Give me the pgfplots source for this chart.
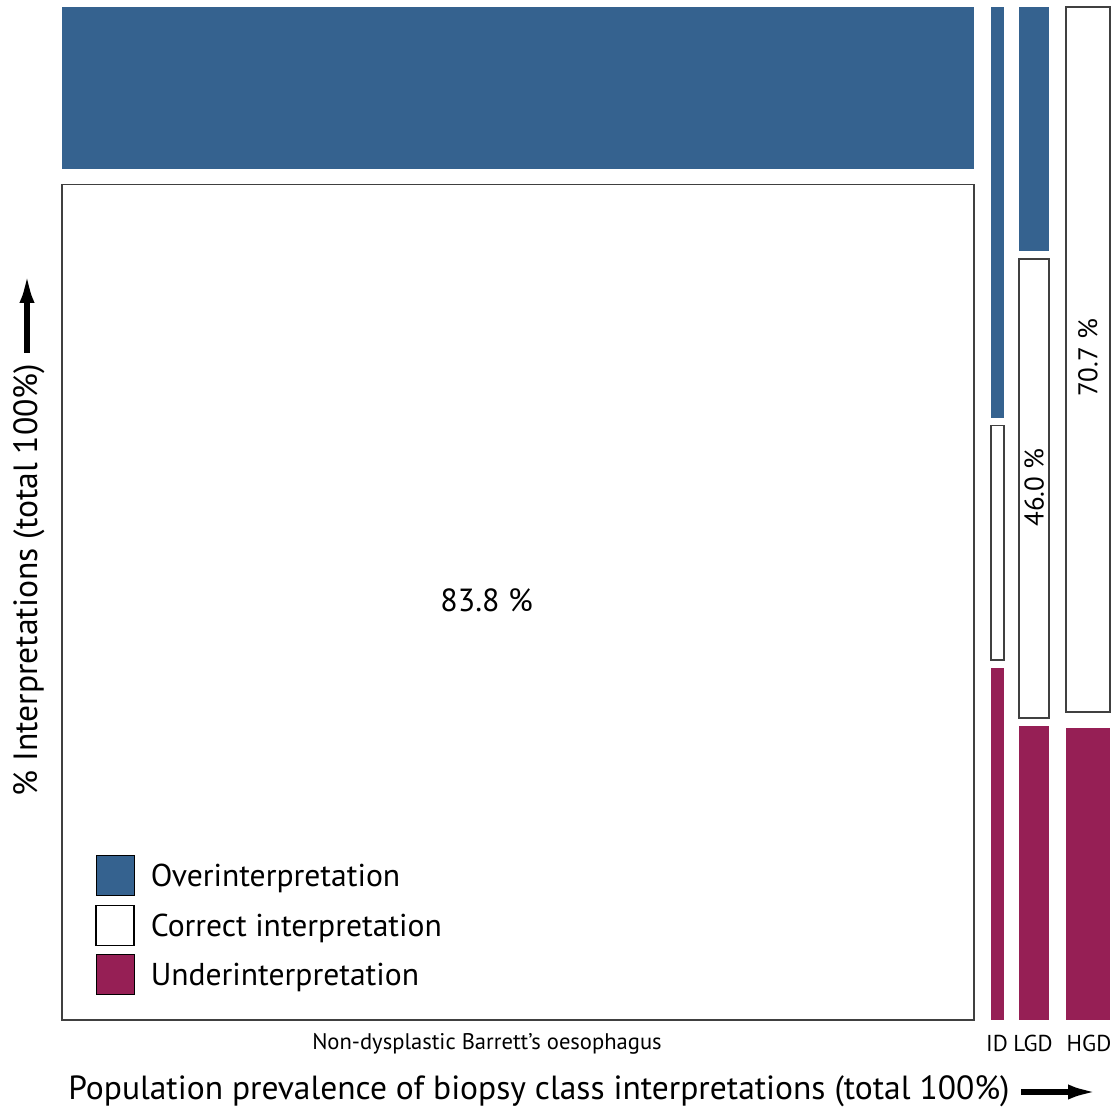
\documentclass[border=0pt]{standalone}
\usepackage{fontspec}
\setmainfont{PT Sans}
\usepackage{pgfplots}
\pgfplotsset{compat=1.18}
\usetikzlibrary{arrows.meta}
\definecolor{over}{HTML}{35628F}
\definecolor{under}{HTML}{961F55}
\definecolor{edge}{HTML}{404040}
\begin{document}
\begin{tikzpicture}
\useasboundingbox (-31pt,-46pt) rectangle (529pt,510pt);
\begin{axis}[
  at={(0,0)}, anchor=south west, scale only axis,
  width=524pt, height=506.5pt,
  xmin=0, xmax=104.9, ymin=0, ymax=101.6,
  axis lines=none, clip=false,
  legend cell align=left,
  legend style={at={(rel axis cs:0.0315,0.1629)}, anchor=north west, draw=none, fill=none,
    inner sep=0pt, row sep=4.2pt, column sep=8pt, font=\fontsize{15.8}{18}\selectfont,
    nodes={inner sep=0pt}},
  legend image code/.code={\draw[#1] (0pt,-9.5pt) rectangle (19pt,10.5pt);},
]
\addlegendimage{fill=over, draw=none}
\addlegendentry{Overinterpretation}
\addlegendimage{fill=white, draw=black, line width=0.7pt}
\addlegendentry{Correct interpretation}
\addlegendimage{fill=under, draw=none}
\addlegendentry{Underinterpretation}
% Non-dysplastic Barrett's oesophagus: over 16.2, correct 83.8
\addplot[fill=white, draw=edge, line width=0.75pt, forget plot] coordinates {(0,0) (91.3,0) (91.3,83.8) (0,83.8)} -- cycle;
\addplot[fill=over, draw=none, forget plot] coordinates {(0,85.4) (91.3,85.4) (91.3,101.6) (0,101.6)} -- cycle;
% ID: under 35.3, correct 23.5, over 41.2
\addplot[fill=under, draw=none, forget plot] coordinates {(93.0,0) (94.3,0) (94.3,35.3) (93.0,35.3)} -- cycle;
\addplot[fill=white, draw=edge, line width=0.75pt, forget plot] coordinates {(93.0,36.1) (94.3,36.1) (94.3,59.6) (93.0,59.6)} -- cycle;
\addplot[fill=over, draw=none, forget plot] coordinates {(93.0,60.4) (94.3,60.4) (94.3,101.6) (93.0,101.6)} -- cycle;
% LGD: under 29.5, correct 46.0, over 24.5
\addplot[fill=under, draw=none, forget plot] coordinates {(95.8,0) (98.8,0) (98.8,29.5) (95.8,29.5)} -- cycle;
\addplot[fill=white, draw=edge, line width=0.75pt, forget plot] coordinates {(95.8,30.3) (98.8,30.3) (98.8,76.3) (95.8,76.3)} -- cycle;
\addplot[fill=over, draw=none, forget plot] coordinates {(95.8,77.1) (98.8,77.1) (98.8,101.6) (95.8,101.6)} -- cycle;
% HGD: under 29.3, correct 70.7
\addplot[fill=under, draw=none, forget plot] coordinates {(100.5,0) (104.9,0) (104.9,29.3) (100.5,29.3)} -- cycle;
\addplot[fill=white, draw=edge, line width=0.75pt, forget plot] coordinates {(100.5,30.9) (104.9,30.9) (104.9,101.6) (100.5,101.6)} -- cycle;
% value labels
\node[font=\fontsize{16}{18}\selectfont] at (axis cs:42.5,42.1) {83.8 \%};
\node[font=\fontsize{13.5}{15}\selectfont, rotate=90] at (axis cs:97.3,53.4) {46.0 \%};
\node[font=\fontsize{13.5}{15}\selectfont, rotate=90] at (axis cs:102.7,66.4) {70.7 \%};
\end{axis}
% category labels
\node[anchor=base, font=\fontsize{11.3}{13}\selectfont, inner sep=0pt] at (212.5pt,-15pt) {Non-dysplastic Barrett’s oesophagus};
\node[anchor=base, font=\fontsize{11.5}{14}\selectfont, inner sep=0pt] at (467.5pt,-16pt) {ID};
\node[anchor=base, font=\fontsize{11.5}{14}\selectfont, inner sep=0pt] at (485.5pt,-16pt) {LGD};
\node[anchor=base, font=\fontsize{11.5}{14}\selectfont, inner sep=0pt] at (513.5pt,-16pt) {HGD};
% axis titles
\node[anchor=base west, font=\fontsize{16.75}{19}\selectfont, inner sep=0pt] at (3pt,-40pt) {Population prevalence of biopsy class interpretations (total 100\%)};
\draw[line width=2.8pt, -{Latex[length=15pt,width=7.5pt]}] (479.5pt,-36pt) -- (518pt,-36pt);
\node[anchor=base west, rotate=90, font=\fontsize{16.8}{19}\selectfont, inner sep=0pt] at (-12.5pt,111.5pt) {\% Interpretations (total 100\%)};
\draw[line width=2.8pt, -{Latex[length=15pt,width=7.5pt]}] (-17.5pt,333.5pt) -- (-17.5pt,373.5pt);
\end{tikzpicture}
\end{document}
